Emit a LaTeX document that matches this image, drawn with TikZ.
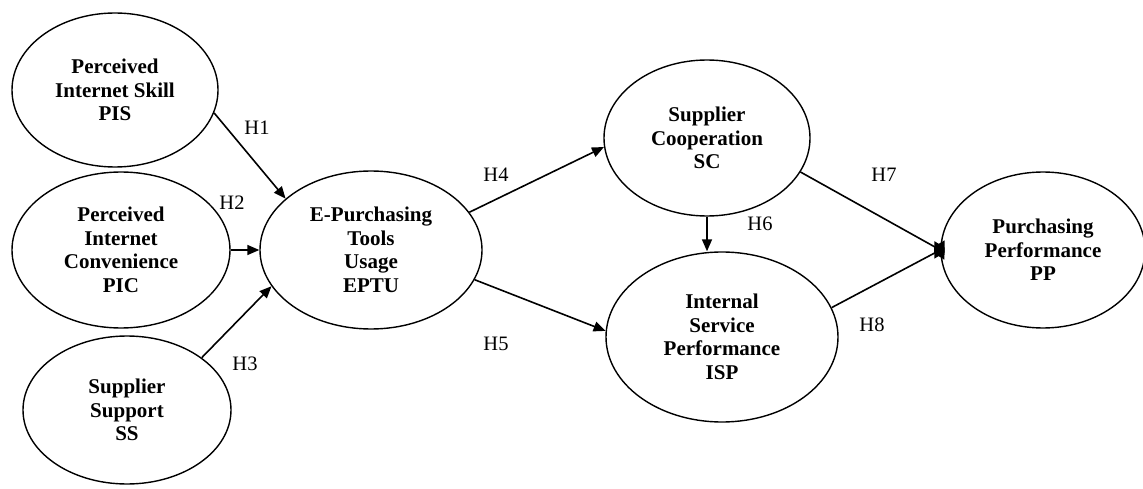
\documentclass[tikz,border=0pt]{standalone}
\usepackage{fontspec}
\setmainfont{Liberation Serif}
\usetikzlibrary{arrows.meta,shapes.geometric}

\tikzset{
  construct/.style={ellipse, draw, line width=1.4pt, inner sep=0pt, align=center,
    font=\fontsize{21}{23.5}\selectfont\bfseries},
  path/.style={line width=1.6pt, -{Triangle[length=12pt,width=10pt]}},
  joint/.style={line width=1.6pt, -{Diamond[length=12pt,width=21pt]}, shorten >=-5pt},
  hyp/.style={font=\fontsize{20.5}{22}\selectfont, inner sep=0pt}
}

\begin{document}
\begin{tikzpicture}[x=1pt,y=-1pt]
\useasboundingbox (0,0) rectangle (1143,489);

% latent constructs
\node[construct, minimum width=206pt, minimum height=154pt] (pis) at (115,90)
  {Perceived\\Internet Skill\\PIS};
\node[construct, minimum width=218pt, minimum height=156pt] (pic) at (121,250)
  {Perceived\\Internet\\Convenience\\PIC};
\node[construct, minimum width=208pt, minimum height=148pt] (ss) at (127,410)
  {Supplier\\Support\\SS};
\node[construct, minimum width=222pt, minimum height=158pt] (eptu) at (371,250)
  {E-Purchasing\\Tools\\Usage\\EPTU};
\node[construct, minimum width=206pt, minimum height=156pt] (sc) at (707,138)
  {Supplier\\Cooperation\\SC};
\node[construct, minimum width=232pt, minimum height=170pt] (isp) at (722,337)
  {Internal\\Service\\Performance\\ISP};
\node[construct, minimum width=204pt, minimum height=156pt] (pp) at (1043,250)
  {Purchasing\\Performance\\PP};

% hypothesised paths
\draw[path] (pis.-13) -- (eptu.149);
\draw[path] (pic.east) -- (eptu.west);
\draw[path] (ss.35) -- (eptu.200);
\draw[path] (eptu.21) -- (sc.185);
\draw[path] (eptu.-16) -- (isp.177);
\draw[path] (sc.south) -- (sc.south |- isp.north);
\draw[joint] (sc.-20) -- (pp.west);
\draw[joint] (isp.15) -- (pp.west);

% hypothesis labels
\node[hyp] (h1) at (257,128) {H1};
\node[hyp] (h2) at (232,203) {H2};
\node[hyp] (h3) at (245,364) {H3};
\node[hyp] (h4) at (496,175) {H4};
\node[hyp] (h5) at (496,344) {H5};
\node[hyp] (h6) at (760,224) {H6};
\node[hyp] (h7) at (884,175) {H7};
\node[hyp] (h8) at (872,325) {H8};
\end{tikzpicture}
\end{document}
